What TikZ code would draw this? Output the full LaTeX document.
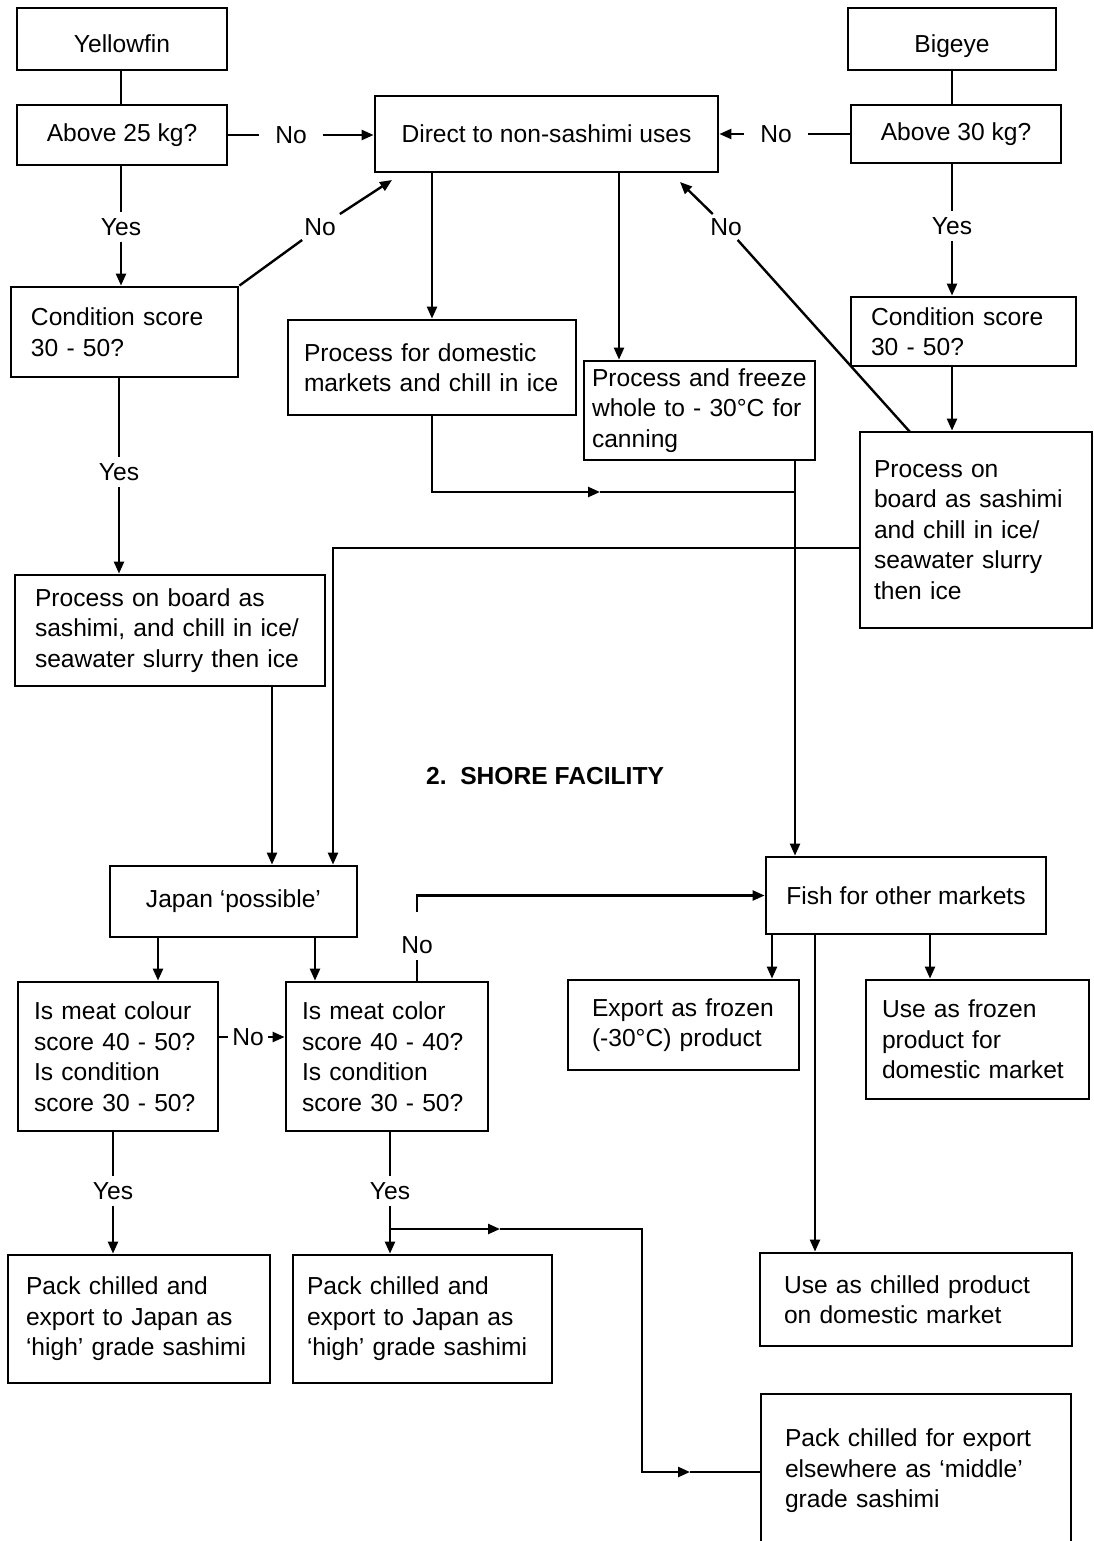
\documentclass[tikz,border=0pt]{standalone}
\usepackage{fontspec}
\setmainfont{Liberation Sans}
\usetikzlibrary{arrows.meta}

\begin{document}
\begin{tikzpicture}[x=0.5pt,y=-0.5pt,
  every node/.style={font=\fontsize{12.3}{15.25}\selectfont},
  box/.style={draw,line width=1.4pt,inner xsep=10pt,inner ysep=0pt,align=left},
  cbox/.style={draw,line width=1.4pt,inner sep=0pt,align=center},
  lbl/.style={inner xsep=8pt,inner ysep=3pt},
  link/.style={line width=1.2pt},
  arr/.style={-{Triangle[length=6pt,width=5pt]}}]
\useasboundingbox (0,0) rectangle (1093,1541);
\node[cbox,minimum width=105pt,minimum height=31pt,text height=14pt,text depth=0pt] (yf) at (122,39) {Yellowfin};
\node[cbox,minimum width=105pt,minimum height=30pt] (a25) at (122,135) {Above 25 kg?};
\node[cbox,minimum width=104pt,minimum height=31pt,text height=14pt,text depth=0pt] (bige) at (952,39) {Bigeye};
\node[cbox,minimum width=105pt,minimum height=29pt] (a30) at (956,134) {Above 30 kg?};
\node[cbox,minimum width=171.5pt,minimum height=38pt] (dir) at (546.5,134) {Direct to non-sashimi uses};
\node[box,text width=93.5pt,minimum height=45pt] (condL) at (124.5,332) {Condition score\\30 - 50?};
\node[box,text width=92.5pt,minimum height=34.5pt] (condR) at (963.5,331.5) {Condition score\\30 - 50?};
\node[box,inner xsep=8pt,text width=128pt,minimum height=47.5pt] (dom) at (432,367.5) {Process for domestic\\markets and chill in ice};
\node[box,inner xsep=4pt,text width=107.5pt,minimum height=49.5pt] (frz) at (699.5,410.5) {Process and freeze\\whole to - 30°C for\\canning};
\node[box,inner xsep=7pt,text width=102pt,minimum height=98pt] (procR) at (976,530) {Process on\\board as sashimi\\and chill in ice/\\seawater slurry\\then ice};
\node[box,text width=135pt,minimum height=55.5pt] (procL) at (170,630.5) {Process on board as\\sashimi, and chill in ice/\\seawater slurry then ice};
\node[font=\fontsize{12.3}{15.25}\selectfont\bfseries] (shore) at (545,776) {2.~~SHORE FACILITY};
\node[cbox,minimum width=123.5pt,minimum height=35.5pt] (jap) at (233.5,901.5) {Japan ‘possible’};
\node[box,inner xsep=8pt,text width=84pt,minimum height=74.5pt] (meatL) at (118,1056.5) {Is meat colour\\score 40 - 50?\\Is condition\\score 30 - 50?};
\node[box,inner xsep=8pt,text width=85pt,minimum height=74.5pt] (meatM) at (387,1056.5) {Is meat color\\score 40 - 40?\\Is condition\\score 30 - 50?};
\node[cbox,minimum width=140pt,minimum height=38.5pt] (fish) at (906,895.5) {Fish for other markets};
\node[box,inner xsep=12pt,text width=91.5pt,minimum height=45pt] (expf) at (683.5,1025) {Export as frozen\\(-30°C) product};
\node[box,inner xsep=8pt,text width=95.5pt,minimum height=59.5pt] (usef) at (977.5,1039.5) {Use as frozen\\product for\\domestic market};
\node[box,inner xsep=9pt,text width=113pt,minimum height=64pt] (packL) at (139,1319) {Pack chilled and\\export to Japan as\\‘high’ grade sashimi};
\node[box,inner xsep=7pt,text width=115.5pt,minimum height=64pt] (packM) at (422.5,1319) {Pack chilled and\\export to Japan as\\‘high’ grade sashimi};
\node[box,inner xsep=12pt,text width=132pt,minimum height=46.5pt] (chil) at (916,1299.5) {Use as chilled product\\on domestic market};
\node[box,inner xsep=12pt,text width=131pt,minimum height=77pt] (mid) at (916,1471) {Pack chilled for export\\elsewhere as ‘middle’\\grade sashimi};
\node[lbl] (no1) at (291,135) {No};
\node[lbl] (no2) at (776,134) {No};
\node[inner sep=2pt] (noL) at (320,227) {No};
\node[inner sep=2pt] (noR) at (726,227) {No};
\node[lbl] (yes1) at (121,227) {Yes};
\node[lbl] (yes2) at (952,226) {Yes};
\node[lbl] (yes3) at (119,472) {Yes};
\node[inner xsep=2pt] (noLM) at (248,1037) {No};
\node[lbl] (noM) at (417,945) {No};
\node[lbl] (yesL) at (113,1191) {Yes};
\node[lbl] (yesM) at (390,1191) {Yes};
\coordinate (dirL) at (392,180);
\coordinate (dirR) at (680,182);
\coordinate (prTop) at (910,432);
\coordinate (c619) at (619,0);
\coordinate (mk1) at (600,492);
\coordinate (jn1) at (795,492);
\coordinate (jn2) at (333,548);
\coordinate (c272) at (272,0);
\coordinate (c158) at (158,0);
\coordinate (c315) at (315,0);
\coordinate (tk) at (417,912);
\coordinate (c772) at (772,0);
\coordinate (c815) at (815,0);
\coordinate (c930) at (930,0);
\coordinate (br) at (390,1229);
\coordinate (mk2) at (500,1229);
\coordinate (tn) at (642,1472);
\coordinate (mk3) at (690,1472);
\draw[link] (yes1 |- yf.south) -- (yes1 |- a25.north);
\draw[link] (a25) -- (no1);
\draw[link,arr] (no1) -- (no1 -| dir.west);
\draw[link] (a30) -- (no2);
\draw[link,arr] (no2) -- (no2 -| dir.east);
\draw[link] (yes1 |- a25.south) -- (yes1);
\draw[link,arr] (yes1) -- (yes1 |- condL.north);
\draw[link] (condL.north east) -- (noL);
\draw[link,arr] (noL) -- (dirL);
\draw[link] (yes2 |- bige.south) -- (yes2 |- a30.north);
\draw[link] (yes2 |- a30.south) -- (yes2);
\draw[link,arr] (yes2) -- (yes2 |- condR.north);
\draw[link,arr] (yes2 |- condR.south) -- (yes2 |- procR.north);
\draw[link] (prTop) -- (noR);
\draw[link,arr] (noR) -- (dirR);
\draw[link,arr] (dir.south -| dom.north) -- (dom.north);
\draw[link,arr] (dir.south -| c619) -- (frz.north -| c619);
\draw[link,arr] (dom.south) |- (mk1);
\draw[link] (mk1) -- (jn1);
\draw[link,arr] (frz.south -| jn1) -- (fish.north -| jn1);
\draw[link,arr] (procR.west |- jn2) -| (jap.north -| jn2);
\draw[link] (yes3 |- condL.south) -- (yes3);
\draw[link,arr] (yes3) -- (yes3 |- procL.north);
\draw[link,arr] (procL.south -| c272) -- (jap.north -| c272);
\draw[link,arr] (jap.south -| c158) -- (meatL.north -| c158);
\draw[link,arr] (jap.south -| c315) -- (meatM.north -| c315);
\draw[link] (meatL.east |- noLM) -- (noLM);
\draw[link,arr] (noLM) -- (noLM -| meatM.west);
\draw[link] (noM |- meatM.north) -- (noM);
\draw[link,arr] (tk) |- (fish.west);
\draw[link,arr] (fish.south -| c772) -- (expf.north -| c772);
\draw[link,arr] (fish.south -| c930) -- (usef.north -| c930);
\draw[link,arr] (fish.south -| c815) -- (chil.north -| c815);
\draw[link] (yesL |- meatL.south) -- (yesL);
\draw[link,arr] (yesL) -- (yesL |- packL.north);
\draw[link] (yesM |- meatM.south) -- (yesM);
\draw[link,arr] (yesM) -- (yesM |- packM.north);
\draw[link,arr] (br) -- (mk2);
\draw[link,arr] (mk2) -| (tn) -- (mk3);
\draw[link] (mk3) -- (mk3 -| mid.west);
\end{tikzpicture}
\end{document}
